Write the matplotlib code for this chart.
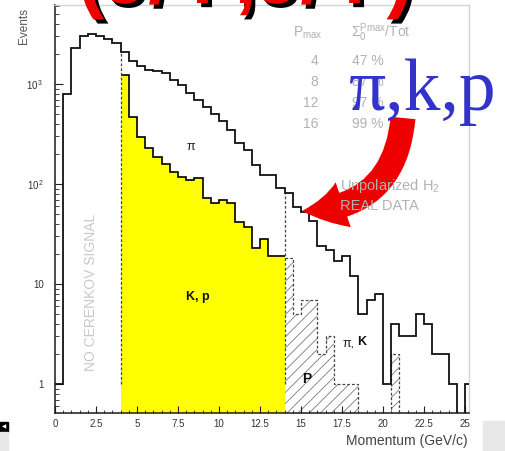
import numpy as np
import matplotlib
matplotlib.use("Agg")
import matplotlib.pyplot as plt
from matplotlib.patches import FancyArrowPatch, Rectangle
from matplotlib.ticker import FixedLocator, LogLocator, NullFormatter, MultipleLocator
import matplotlib.patheffects as pe

# ---- data -------------------------------------------------------------
bin_width = 0.5
# all tracks, bins of 0.5 GeV starting at 0
total_counts = [1, 794, 2310, 3020, 3140, 3040, 2820, 2590, 2075, 1700,
                1525, 1380, 1350, 1300, 1096, 977, 813, 692, 589, 501,
                427, 347, 257, 219, 155, 122, 122, 91, 82, 59,
                52, 43, 24, 22, 17, 19, 12, 5, 7, 8,
                1, 4, 3, 3, 5, 4, 2, 2, 1, 0, 1]
total_start = 0.0

# tracks without Cerenkov signal between 4 and 14 GeV (K, p)
kp_counts = [1230, 464, 297, 228, 188, 158, 133, 117, 110, 115,
             72, 65, 69, 65, 42, 37, 23, 28, 19, 19]
kp_start = 4.0

# tracks without Cerenkov signal above 14 GeV (p)
p_counts = [18, 5, 7, 7, 2, 3, 1, 1, 1, 0, 0, 0, 0, 2, 0]
p_start = 14.0

# threshold momenta
thresholds = [4.0, 14.0]

x_ticks = [0, 2.5, 5, 7.5, 10, 12.5, 15, 17.5, 20, 22.5, 25]
x_tick_labels = ["0", "2.5", "5", "7.5", "10", "12.5", "15", "17.5", "20", "22.5", "25"]
y_ticks = [1, 10, 100, 1000]
y_tick_labels = ["1", "10", r"$\mathregular{10^{\,2}}$", r"$\mathregular{10^{\,3}}$"]

table_pmax = ["4", "8", "12", "16"]
table_frac = ["47 %", "87 %", "97 %", "99 %"]

# ---- style ------------------------------------------------------------
plt.rcParams["font.family"] = ["Liberation Sans", "DejaVu Sans"]
plt.rcParams["mathtext.fontset"] = "custom"
plt.rcParams["mathtext.rm"] = "Liberation Sans"
plt.rcParams["mathtext.it"] = "Liberation Sans:italic"
plt.rcParams["mathtext.bf"] = "Liberation Sans:bold"
plt.rcParams["hatch.linewidth"] = 0.6
plt.rcParams["hatch.color"] = "#7a7a7a"

W, H = 505, 451
fig = plt.figure(figsize=(W / 100, H / 100), dpi=100)
fig.patch.set_facecolor("white")

ax_l, ax_r, ax_t, ax_b = 55, 469, 5, 413
ax = fig.add_axes([ax_l / W, 1 - ax_b / H, (ax_r - ax_l) / W, (ax_b - ax_t) / H])

ymin, ymax = 0.513, 6170
tiny = 1e-2


def edges_for(counts, start):
    return start + bin_width * np.arange(len(counts) + 1)


def positive(counts):
    c = np.asarray(counts, dtype=float)
    return np.where(c > 0, c, tiny)


tot_e = edges_for(total_counts, total_start)
kp_e = edges_for(kp_counts, kp_start)
p_e = edges_for(p_counts, p_start)

# yellow K,p region
ax.stairs(positive(kp_counts), kp_e, baseline=tiny, fill=True,
          color="#ffff00", lw=0, zorder=1)
ax.stairs(positive(kp_counts), kp_e, baseline=None, color="black", lw=1.2, zorder=3)

# hatched proton region
ax.stairs(positive(p_counts), p_e, baseline=tiny, fill=True, facecolor="none",
          edgecolor="#7a7a7a", hatch="///", lw=0, zorder=1)
ax.stairs(positive(p_counts), p_e, baseline=None, color="#444444", lw=0.9,
          linestyle=(0, (2.2, 1.6)), zorder=3)

# all tracks
ax.stairs(positive(total_counts), tot_e, baseline=None, color="#111111", lw=1.3, zorder=4)

# dashed threshold lines up to the total histogram
tot_arr = np.asarray(total_counts, dtype=float)
for t in thresholds:
    idx = int(round((t - total_start) / bin_width))
    ax.plot([t, t], [1, tot_arr[idx]], color="#444444", lw=0.9,
            linestyle=(0, (2.2, 1.6)), zorder=3)

ax.set_yscale("log")
ax.set_xlim(0, 25.25)
ax.set_ylim(ymin, ymax)

ax.xaxis.set_major_locator(FixedLocator(x_ticks))
ax.set_xticklabels(x_tick_labels)
ax.xaxis.set_minor_locator(MultipleLocator(0.5))
ax.yaxis.set_major_locator(FixedLocator(y_ticks))
ax.set_yticklabels(y_tick_labels)
ax.yaxis.set_minor_locator(LogLocator(base=10, subs=np.arange(2, 10)))
ax.yaxis.set_minor_formatter(NullFormatter())

ax.tick_params(axis="both", which="both", direction="in", colors="#222222",
               labelsize=7, labelcolor="#333333")
ax.tick_params(axis="x", which="major", length=5, width=0.8, pad=4)
ax.tick_params(axis="x", which="minor", length=2.5, width=0.6)
ax.tick_params(axis="y", which="major", length=6, width=0.8, pad=8)
ax.tick_params(axis="y", which="minor", length=3, width=0.6)

for side in ("left", "bottom"):
    ax.spines[side].set_color("#1a1a1a")
    ax.spines[side].set_linewidth(1.1)
for side in ("top", "right"):
    ax.spines[side].set_color("#d4d4d4")
    ax.spines[side].set_linewidth(1.0)

# ---- annotation layer in pixel coordinates ---------------------------
ov = fig.add_axes([0, 0, 1, 1], zorder=10)
ov.set_xlim(0, W)
ov.set_ylim(H, 0)
ov.axis("off")
ov.patch.set_alpha(0)

gray = "#b2b2b2"

ov.text(24, 26, "Events", rotation=90, ha="center", va="center",
        fontsize=8.5, color="#555555")
ov.text(468, 441, "Momentum (GeV/c)", ha="right", va="center",
        fontsize=10, color="#444444")

ov.text(91, 292, "NO CERENKOV SIGNAL", rotation=90, ha="center", va="center",
        fontsize=10, color="#c8c8c8")

ov.text(191, 147, "π", ha="center", va="center", fontsize=9, color="#222222")
ov.text(198, 297, "K, p", ha="center", va="center", fontsize=9,
        fontweight="bold", color="#111111")
ov.text(349, 343, "π,", ha="center", va="center", fontsize=9, color="#222222")
ov.text(362, 342, "K", ha="center", va="center", fontsize=9,
        fontweight="bold", color="#111111")
ov.text(307, 379, "P", ha="center", va="center", fontsize=10,
        fontweight="bold", color="#111111")

# table of integrated fractions
ov.text(293, 33, r"$\mathregular{P_{max}}$", ha="left", va="center",
        fontsize=10, color=gray)
ov.text(351, 33, r"$\mathregular{\Sigma_0^{Pmax}}$/Tot", ha="left", va="center",
        fontsize=10, color=gray)
row_y = [61, 82, 103, 124]
for yy, pm, fr in zip(row_y, table_pmax, table_frac):
    ov.text(318, yy, pm, ha="right", va="center", fontsize=10, color=gray)
    ov.text(352, yy, fr, ha="left", va="center", fontsize=10, color=gray)

ov.text(340, 186, "Unpolarized H$_2$", ha="left", va="center",
        fontsize=10.5, color=gray)
ov.text(340, 206, "REAL DATA", ha="left", va="center",
        fontsize=10.5, color=gray)

# slide overlay: title, particle label, arrow
ov.text(78, 3, "(J/Ψ,J/Ψ)", ha="left", va="baseline", fontsize=57,
        fontweight="bold", color="#ee0000",
        path_effects=[pe.withSimplePatchShadow(offset=(3, -3),
                                               shadow_rgbFace="black", alpha=1.0)])
ov.text(349, 110, "π,k,p", ha="left", va="baseline", fontsize=53,
        family="Liberation Serif", color="#3333cc")

arrow = FancyArrowPatch((403, 118), (302, 211),
                        connectionstyle="arc3,rad=-0.45",
                        arrowstyle="simple,head_width=34,head_length=30,tail_width=18",
                        mutation_scale=1, color="#ee0000", lw=0, shrinkA=0, shrinkB=0)
ov.add_patch(arrow)

# slide controls in the corners
ov.add_patch(Rectangle((0, 422), 8, 10, color="black"))
ov.text(4, 427, "◀", ha="center", va="center", fontsize=4, color="white",
        family="DejaVu Sans")
ov.add_patch(Rectangle((0, 432), 8, 19, color="#e8e8e8"))
ov.add_patch(Rectangle((483, 421), 22, 30, color="#e8e8e8"))

fig.savefig("out.png", dpi=100)
